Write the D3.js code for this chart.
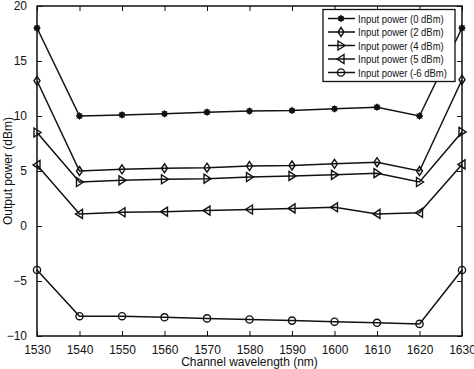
<!DOCTYPE html>
<html>
<head>
<meta charset="utf-8">
<script src="https://cdn.jsdelivr.net/npm/d3@7"></script>
<style>
  body { margin: 0; background: #fff; }
  text { font-family: "Liberation Sans", Arial, sans-serif; fill: #111; }
</style>
</head>
<body>
<svg id="chart" width="474" height="369"></svg>
<script>
// data
var wavelengths = [1530, 1540, 1550, 1560, 1570, 1580, 1590, 1600, 1610, 1620, 1630];
var p0dBm  = [18.0, 10.0, 10.1, 10.2, 10.35, 10.45, 10.5, 10.65, 10.8, 10.0, 18.0];
var p2dBm  = [13.2, 5.0, 5.15, 5.25, 5.3, 5.45, 5.5, 5.65, 5.8, 5.0, 13.3];
var p4dBm  = [8.5, 4.0, 4.15, 4.25, 4.3, 4.45, 4.55, 4.65, 4.8, 4.0, 8.55];
var p5dBm  = [5.55, 1.1, 1.25, 1.3, 1.4, 1.5, 1.6, 1.7, 1.1, 1.2, 5.6];
var pm6dBm = [-4.0, -8.2, -8.2, -8.3, -8.4, -8.5, -8.6, -8.7, -8.8, -8.9, -4.0];
var seriesNames = ["Input power (0 dBm)", "Input power (2 dBm)", "Input power (4 dBm)",
                   "Input power (5 dBm)", "Input power (-6 dBm)"];
var seriesMarkers = ["star", "diamond", "triRight", "triLeft", "circle"];
var seriesValues = [p0dBm, p2dBm, p4dBm, p5dBm, pm6dBm];
var yTicks = [-10, -5, 0, 5, 10, 15, 20];

var svg = d3.select("#chart");
var plotLeft = 37, plotRight = 462, plotTop = 6, plotBottom = 336;

var x = d3.scaleLinear().domain([1530, 1630]).range([plotLeft, plotRight]);
var y = d3.scaleLinear().domain([-10, 20]).range([plotBottom, plotTop]);

// axes, ticks pointing inward, mirrored on top/right
svg.append("g").attr("transform", "translate(0," + plotBottom + ")")
    .call(d3.axisBottom(x).tickValues(wavelengths).tickFormat(d3.format("d")).tickSizeInner(-5).tickSizeOuter(0).tickPadding(9))
    .call(function(g) { g.select(".domain").remove(); g.selectAll("text").attr("font-size", 12); });
svg.append("g").attr("transform", "translate(0," + plotTop + ")")
    .call(d3.axisTop(x).tickValues(wavelengths).tickSizeInner(-5).tickSizeOuter(0).tickFormat(""))
    .call(function(g) { g.select(".domain").remove(); });
svg.append("g").attr("transform", "translate(" + plotLeft + ",0)")
    .call(d3.axisLeft(y).tickValues(yTicks).tickSizeInner(-5).tickSizeOuter(0).tickPadding(10))
    .call(function(g) { g.select(".domain").remove(); g.selectAll("text").attr("font-size", 12); });
svg.append("g").attr("transform", "translate(" + plotRight + ",0)")
    .call(d3.axisRight(y).tickValues(yTicks).tickSizeInner(-5).tickSizeOuter(0).tickFormat(""))
    .call(function(g) { g.select(".domain").remove(); });
svg.selectAll(".tick line").attr("stroke", "#111");

svg.append("rect")
    .attr("x", plotLeft).attr("y", plotTop)
    .attr("width", plotRight - plotLeft).attr("height", plotBottom - plotTop)
    .attr("fill", "none").attr("stroke", "#111").attr("stroke-width", 1.5);

// axis labels
svg.append("text")
    .attr("x", (plotLeft + plotRight) / 2).attr("y", 366)
    .attr("text-anchor", "middle").attr("font-size", 12)
    .text("Channel wavelength (nm)");
svg.append("text")
    .attr("transform", "translate(12," + (plotTop + plotBottom) / 2 + ") rotate(-90)")
    .attr("text-anchor", "middle").attr("font-size", 12)
    .text("Output power (dBm)");

function drawMarker(g, kind, cx, cy) {
    var s = 3.6;
    if (kind == "star") {
        g.append("circle").attr("cx", cx).attr("cy", cy).attr("r", 2.6)
            .attr("fill", "#111").attr("stroke", "#111");
        [0, 45, 90, 135].forEach(function(a) {
            var r = a * Math.PI / 180;
            g.append("line")
                .attr("x1", cx - s * Math.cos(r)).attr("y1", cy - s * Math.sin(r))
                .attr("x2", cx + s * Math.cos(r)).attr("y2", cy + s * Math.sin(r))
                .attr("stroke", "#111").attr("stroke-width", 1);
        });
        return;
    }
    if (kind == "circle") {
        g.append("circle").attr("cx", cx).attr("cy", cy).attr("r", 3.6)
            .attr("fill", "none").attr("stroke", "#111").attr("stroke-width", 1.4);
        return;
    }
    var pts;
    if (kind == "diamond") pts = [[cx, cy - 4.5], [cx + 3, cy], [cx, cy + 4.5], [cx - 3, cy]];
    if (kind == "triRight") pts = [[cx - 3, cy - 4.5], [cx + 4, cy], [cx - 3, cy + 4.5]];
    if (kind == "triLeft") pts = [[cx + 3, cy - 4.5], [cx - 4, cy], [cx + 3, cy + 4.5]];
    g.append("polygon").attr("points", pts.map(function(p) { return p.join(","); }).join(" "))
        .attr("fill", "none").attr("stroke", "#111").attr("stroke-width", 1.4);
}

var line = d3.line()
    .x(function(d, i) { return x(wavelengths[i]); })
    .y(function(d) { return y(d); });

seriesValues.forEach(function(vals, k) {
    var g = svg.append("g");
    g.append("path").attr("d", line(vals))
        .attr("fill", "none").attr("stroke", "#111").attr("stroke-width", 1.5);
    vals.forEach(function(v, i) { drawMarker(g, seriesMarkers[k], x(wavelengths[i]), y(v)); });
});

// legend
var lg = svg.append("g");
lg.append("rect").attr("x", 323).attr("y", 9.5).attr("width", 132).attr("height", 72)
    .attr("fill", "#fff").attr("stroke", "#111").attr("stroke-width", 1.3);
seriesNames.forEach(function(name, k) {
    var ly = 18.5 + k * 13.5;
    lg.append("line").attr("x1", 328).attr("x2", 355).attr("y1", ly).attr("y2", ly)
        .attr("stroke", "#111").attr("stroke-width", 1.5);
    drawMarker(lg, seriesMarkers[k], 341, ly);
    var t = lg.append("text").attr("x", 358).attr("y", ly + 4).attr("font-size", 11).text(name);
    // the original legend font is narrower; squeeze to fit the box
    var w = t.node().getComputedTextLength();
    t.attr("textLength", w * 0.86).attr("lengthAdjust", "spacingAndGlyphs");
});
</script>
</body>
</html>
